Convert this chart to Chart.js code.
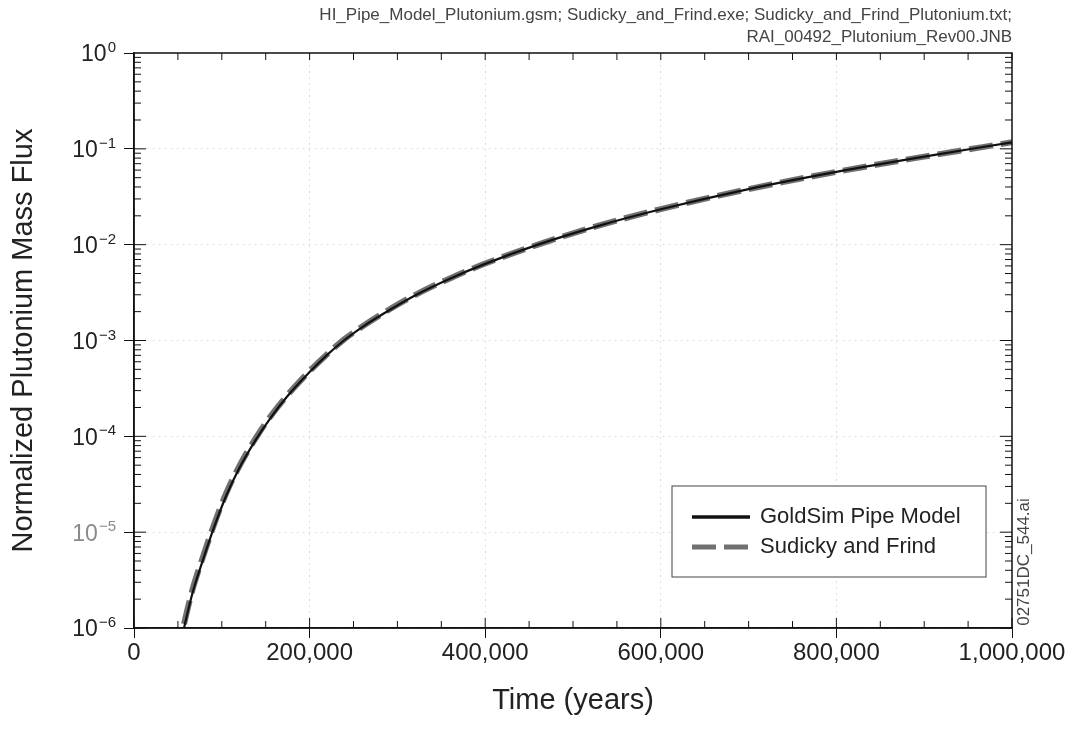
<!DOCTYPE html>
<html>
<head>
<meta charset="utf-8">
<script src="https://cdn.jsdelivr.net/npm/chart.js@4/dist/chart.umd.min.js"></script>
<style>
  html, body { margin: 0; padding: 0; background: #fff; }
  #wrap { width: 1074px; height: 730px; }
</style>
</head>
<body>
<div id="wrap"><canvas id="fluxChart" width="1074" height="730"></canvas></div>
<script>
// values
const years = [57000, 62000, 68000, 76000, 90000, 105000, 120000, 139000, 156000, 173000,
    200000, 220000, 239000, 260000, 284000, 320000, 361000, 400000, 460000, 530000,
    600000, 700000, 800000, 900000, 1000000];
const goldsimFlux = [1.0e-6, 1.58e-6, 2.57e-6, 4.37e-6, 1.05e-5, 2.4e-5, 4.68e-5, 9.3e-5, 1.58e-4, 2.51e-4,
    4.68e-4, 7.08e-4, 1.0e-3, 1.38e-3, 1.9e-3, 2.95e-3, 4.47e-3, 6.3e-3, 1.0e-2, 1.58e-2,
    2.34e-2, 3.8e-2, 5.75e-2, 8.3e-2, 1.17e-1];
const sudickyFlux = [1.1e-6, 1.72e-6, 2.78e-6, 4.7e-6, 1.12e-5, 2.55e-5, 4.9e-5, 9.7e-5, 1.64e-4, 2.58e-4,
    4.8e-4, 7.2e-4, 1.02e-3, 1.4e-3, 1.93e-3, 2.98e-3, 4.5e-3, 6.35e-3, 1.0e-2, 1.59e-2,
    2.35e-2, 3.8e-2, 5.75e-2, 8.3e-2, 1.17e-1];

const seriesNames = ['GoldSim Pipe Model', 'Sudicky and Frind'];
const xTickValues = [0, 200000, 400000, 600000, 800000, 1000000];
const yTickValues = [1e-6, 1e-5, 1e-4, 1e-3, 1e-2, 1e-1, 1];
const yTickExponents = ['−6', '−5', '−4', '−3', '−2', '−1', '0'];
const headerLines = [
    'HI_Pipe_Model_Plutonium.gsm; Sudicky_and_Frind.exe; Sudicky_and_Frind_Plutonium.txt;',
    'RAI_00492_Plutonium_Rev00.JNB'
];
const sideNote = '02751DC_544.ai';

const FONT = "'Liberation Sans', Arial, sans-serif";

// inward ticks, top/right frame, power-of-ten labels, legend box and the file tag
const framePlugin = {
    id: 'frame',
    afterDraw(chart) {
        const { ctx, chartArea: a, scales: { x, y } } = chart;
        ctx.save();
        ctx.strokeStyle = '#111';
        ctx.lineWidth = 1.5;
        ctx.strokeRect(a.left, a.top, a.right - a.left, a.bottom - a.top);

        ctx.lineWidth = 1;
        ctx.beginPath();
        for (let v = 0; v <= 1000000; v += 50000) {
            const px = x.getPixelForValue(v);
            const len = v % 200000 === 0 ? 10 : 7;
            ctx.moveTo(px, a.bottom); ctx.lineTo(px, a.bottom - len);
            ctx.moveTo(px, a.top); ctx.lineTo(px, a.top + 7);
        }
        for (let e = -6; e < 0; e++) {
            for (let m = 1; m < 10; m++) {
                const py = y.getPixelForValue(m * Math.pow(10, e));
                const len = m === 1 ? 12 : 7;
                ctx.moveTo(a.left, py); ctx.lineTo(a.left + len, py);
                ctx.moveTo(a.right, py); ctx.lineTo(a.right - len, py);
            }
        }
        ctx.stroke();

        // y tick labels as 10 with a raised exponent
        const labelRight = a.left - 18;
        yTickValues.forEach((v, i) => {
            const py = y.getPixelForValue(v);
            ctx.fillStyle = v === 1e-5 ? '#8a8a8a' : '#222';
            ctx.textAlign = 'right';
            ctx.font = '15px ' + FONT;
            const ew = ctx.measureText(yTickExponents[i]).width;
            ctx.textBaseline = 'alphabetic';
            ctx.fillText(yTickExponents[i], labelRight, py - 1);
            ctx.font = '23px ' + FONT;
            ctx.textBaseline = 'middle';
            ctx.fillText('10', labelRight - ew - 1, py + 2);
        });

        // legend
        const bw = 314, bh = 91;
        const bx = a.right - 26 - bw, by = a.bottom - 51 - bh;
        ctx.fillStyle = '#fff';
        ctx.fillRect(bx, by, bw, bh);
        ctx.strokeStyle = '#444';
        ctx.lineWidth = 1;
        ctx.strokeRect(bx, by, bw, bh);
        ctx.font = '22px ' + FONT;
        ctx.textBaseline = 'middle';
        ctx.textAlign = 'left';
        chart.data.datasets.forEach((ds, i) => {
            const ly = by + 31 + i * 30;
            ctx.save();
            ctx.strokeStyle = ds.borderColor;
            ctx.lineWidth = i === 0 ? 3.5 : 5;
            ctx.setLineDash(ds.borderDash || []);
            ctx.beginPath();
            ctx.moveTo(bx + 20, ly);
            ctx.lineTo(bx + 78, ly);
            ctx.stroke();
            ctx.restore();
            ctx.fillStyle = '#222';
            ctx.fillText(ds.label, bx + 88, ly);
        });

        // file tag beside the right axis
        ctx.save();
        ctx.translate(a.right + 12, a.bottom - 66);
        ctx.rotate(-Math.PI / 2);
        ctx.font = '17px ' + FONT;
        ctx.fillStyle = '#444';
        ctx.textAlign = 'center';
        ctx.textBaseline = 'middle';
        ctx.fillText(sideNote, 0, 0);
        ctx.restore();

        ctx.restore();
    }
};

const ctx = document.getElementById('fluxChart').getContext('2d');
new Chart(ctx, {
    type: 'line',
    data: {
        datasets: [{
            label: seriesNames[0],
            data: years.map((t, i) => ({ x: t, y: goldsimFlux[i] })),
            borderColor: '#111',
            borderWidth: 2.2,
            pointRadius: 0,
            cubicInterpolationMode: 'monotone',
            order: 0
        }, {
            label: seriesNames[1],
            data: years.map((t, i) => ({ x: t, y: sudickyFlux[i] })),
            borderColor: '#707070',
            borderWidth: 6,
            borderDash: [24, 8],
            pointRadius: 0,
            cubicInterpolationMode: 'monotone',
            order: 1
        }]
    },
    options: {
        responsive: false,
        animation: false,
        layout: { padding: { top: 0, right: 62, bottom: 0, left: 4 } },
        plugins: {
            legend: { display: false },
            tooltip: { enabled: false },
            title: {
                display: true,
                text: headerLines,
                align: 'end',
                color: '#444',
                font: { family: FONT, size: 17, weight: 'normal', lineHeight: '22px' },
                padding: { top: 4, bottom: 5 }
            }
        },
        scales: {
            x: {
                type: 'linear',
                min: 0,
                max: 1000000,
                afterFit(scale) { scale.height = 102; },
                afterBuildTicks(scale) { scale.ticks = xTickValues.map(v => ({ value: v })); },
                ticks: {
                    color: '#222',
                    font: { family: FONT, size: 24 },
                    padding: 1,
                    maxRotation: 0,
                    callback: v => v.toLocaleString('en-US')
                },
                grid: { color: 'rgba(0,0,0,0.13)', tickColor: '#111', tickLength: 10 },
                border: { color: '#111', width: 1.5, dash: [2, 4] },
                title: {
                    display: true,
                    text: 'Time (years)',
                    color: '#222',
                    font: { family: FONT, size: 29 },
                    padding: { top: 2, bottom: 12 }
                }
            },
            y: {
                type: 'logarithmic',
                min: 1e-6,
                max: 1,
                afterFit(scale) { scale.width = 130; },
                afterBuildTicks(scale) { scale.ticks = yTickValues.map(v => ({ value: v })); },
                ticks: { display: false },
                grid: { color: 'rgba(0,0,0,0.13)', tickColor: '#111', tickLength: 10 },
                border: { color: '#111', width: 1.5, dash: [2, 4] },
                title: {
                    display: true,
                    text: 'Normalized Plutonium Mass Flux',
                    color: '#222',
                    font: { family: FONT, size: 29 },
                    padding: { top: 3, bottom: 4 }
                }
            }
        }
    },
    plugins: [framePlugin]
});
</script>
</body>
</html>
